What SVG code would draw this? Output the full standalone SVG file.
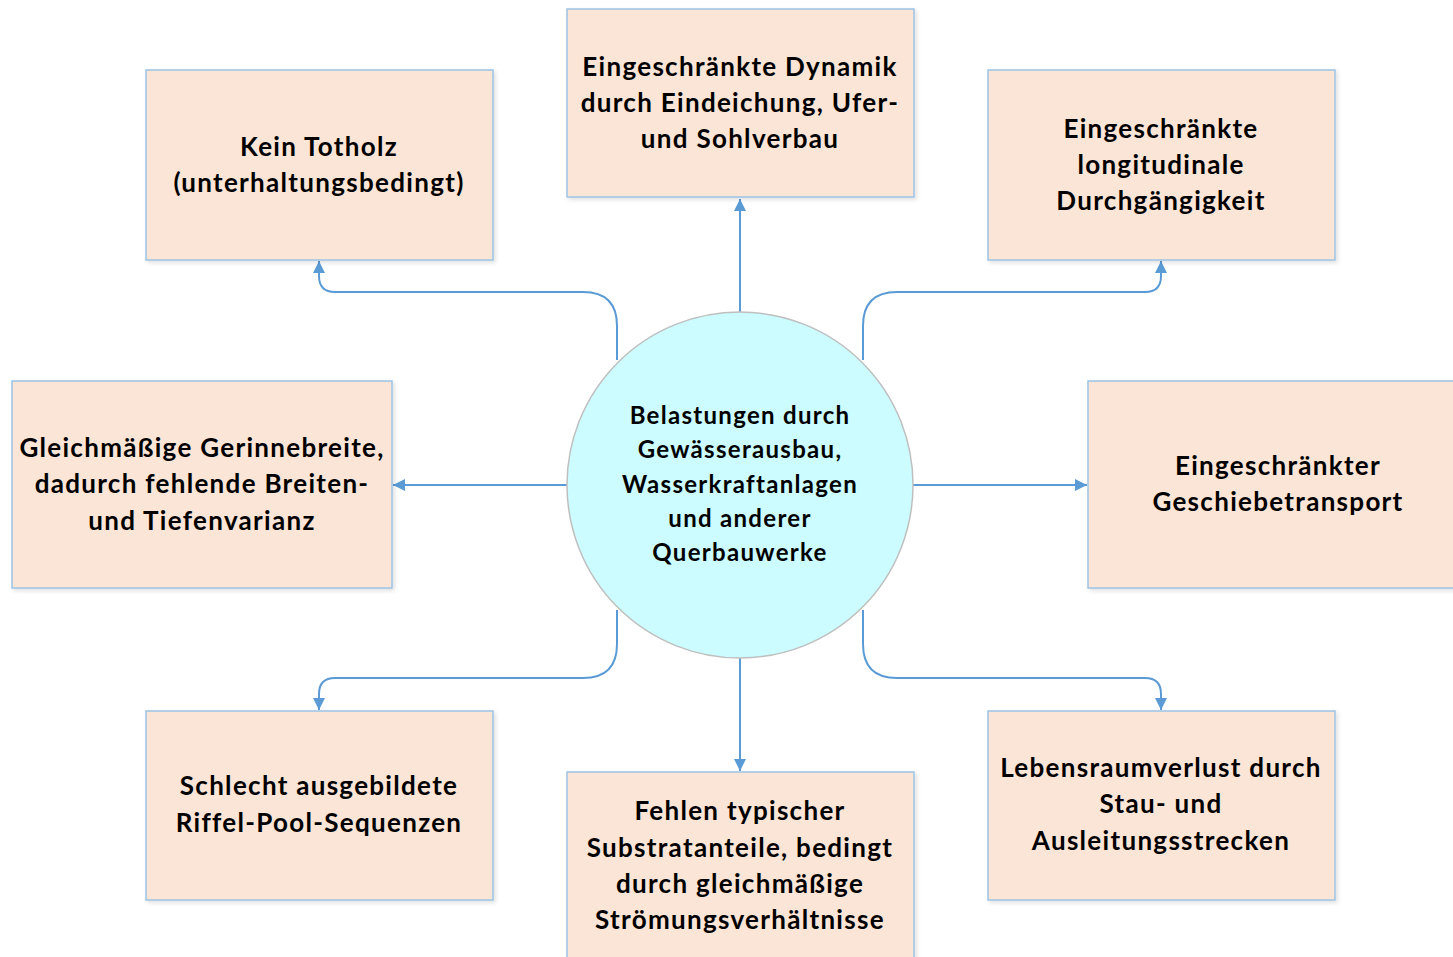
<svg xmlns="http://www.w3.org/2000/svg" width="1453" height="957" viewBox="0 0 1453 957">
<defs>
<style>
.box{fill:#FBE5D6;stroke:#9DC3E6;stroke-width:1.5}
.t{font-family:Lato,"Liberation Sans",sans-serif;font-weight:bold;font-size:26px;letter-spacing:1.3px;fill:#000;text-anchor:middle}
.tc{font-size:24px;letter-spacing:1.3px}
.c{fill:none;stroke:#5B9BD5;stroke-width:2}
</style>
<marker id="ah" viewBox="0 0 12 12" refX="12" refY="6" markerWidth="12" markerHeight="12" markerUnits="userSpaceOnUse" orient="auto">
<path d="M0,0 L12,6 L0,12 z" fill="#5B9BD5"/>
</marker>
<filter id="sh" x="-5%" y="-5%" width="112%" height="115%">
<feDropShadow dx="2" dy="2" stdDeviation="2" flood-color="#000" flood-opacity="0.12"/>
</filter>
</defs>
<rect width="1453" height="957" fill="#fff"/>
<g id="connectors">
<path class="c" d="M740,312 V199" marker-end="url(#ah)"/>
<path class="c" d="M740,658 V771" marker-end="url(#ah)"/>
<path class="c" d="M567,485 H393" marker-end="url(#ah)"/>
<path class="c" d="M913,485 H1087" marker-end="url(#ah)"/>
<path class="c" d="M617,360 V326 Q617,292 583,292 H335 Q319,292 319,276 V261" marker-end="url(#ah)"/>
<path class="c" d="M863,360 V326 Q863,292 897,292 H1145 Q1161,292 1161,276 V261" marker-end="url(#ah)"/>
<path class="c" d="M617,610 V644 Q617,678 583,678 H335 Q319,678 319,694 V710" marker-end="url(#ah)"/>
<path class="c" d="M863,610 V644 Q863,678 897,678 H1145 Q1161,678 1161,694 V710" marker-end="url(#ah)"/>
</g>
<g id="center">
<circle cx="740" cy="485" r="173" fill="#CCFCFF" stroke="#BFBFBF" stroke-width="1.5"/>
<text class="t tc"><tspan x="740" y="424">Belastungen durch</tspan><tspan x="740" y="458">Gewässerausbau,</tspan><tspan x="740" y="493">Wasserkraftanlagen</tspan><tspan x="740" y="527">und anderer</tspan><tspan x="740" y="561">Querbauwerke</tspan></text>
</g>
<g id="n-totholz">
<rect class="box" x="146" y="70" width="347" height="190" filter="url(#sh)"/>
<text class="t"><tspan x="319" y="156">Kein Totholz</tspan><tspan x="319" y="192">(unterhaltungsbedingt)</tspan></text>
</g>
<g id="n-dynamik">
<rect class="box" x="567" y="9" width="347" height="188" filter="url(#sh)"/>
<text class="t"><tspan x="740" y="76">Eingeschränkte Dynamik</tspan><tspan x="740" y="112">durch Eindeichung, Ufer-</tspan><tspan x="740" y="148">und Sohlverbau</tspan></text>
</g>
<g id="n-durchgaengigkeit">
<rect class="box" x="988" y="70" width="347" height="190" filter="url(#sh)"/>
<text class="t"><tspan x="1161" y="138">Eingeschränkte</tspan><tspan x="1161" y="174">longitudinale</tspan><tspan x="1161" y="210">Durchgängigkeit</tspan></text>
</g>
<g id="n-gerinnebreite">
<rect class="box" x="12" y="381" width="380" height="207" filter="url(#sh)"/>
<text class="t"><tspan x="202" y="457">Gleichmäßige Gerinnebreite,</tspan><tspan x="202" y="493">dadurch fehlende Breiten-</tspan><tspan x="202" y="530">und Tiefenvarianz</tspan></text>
</g>
<g id="n-geschiebe">
<rect class="box" x="1088" y="381" width="380" height="207" filter="url(#sh)"/>
<text class="t"><tspan x="1278" y="475">Eingeschränkter</tspan><tspan x="1278" y="511">Geschiebetransport</tspan></text>
</g>
<g id="n-riffel">
<rect class="box" x="146" y="711" width="347" height="189" filter="url(#sh)"/>
<text class="t"><tspan x="319" y="795">Schlecht ausgebildete</tspan><tspan x="319" y="832">Riffel-Pool-Sequenzen</tspan></text>
</g>
<g id="n-substrat">
<rect class="box" x="567" y="772" width="347" height="200" filter="url(#sh)"/>
<text class="t"><tspan x="740" y="820">Fehlen typischer</tspan><tspan x="740" y="857">Substratanteile, bedingt</tspan><tspan x="740" y="893">durch gleichmäßige</tspan><tspan x="740" y="929">Strömungsverhältnisse</tspan></text>
</g>
<g id="n-lebensraum">
<rect class="box" x="988" y="711" width="347" height="189" filter="url(#sh)"/>
<text class="t"><tspan x="1161" y="777">Lebensraumverlust durch</tspan><tspan x="1161" y="813">Stau- und</tspan><tspan x="1161" y="850">Ausleitungsstrecken</tspan></text>
</g>
</svg>
